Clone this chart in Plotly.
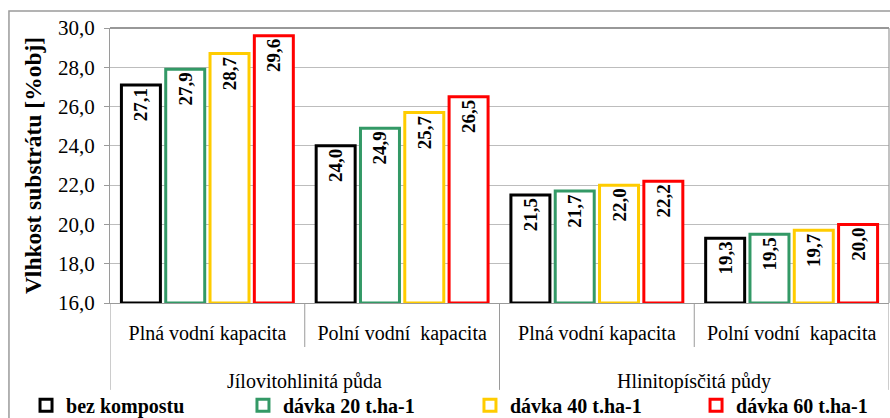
import plotly.graph_objects as go

subcats = ["Plná vodní kapacita", "Polní vodní\u00a0 kapacita", "Plná vodní kapacita", "Polní vodní\u00a0 kapacita"]
groups = ["Jílovitohlinitá půda", "Hlinitopísčitá půdy"]
series_names = ["bez kompostu", "dávka 20 t.ha-1", "dávka 40 t.ha-1", "dávka 60 t.ha-1"]
bez = [27.1, 24.0, 21.5, 19.3]
d20 = [27.9, 24.9, 21.7, 19.5]
d40 = [28.7, 25.7, 22.0, 19.7]
d60 = [29.6, 26.5, 22.2, 20.0]
y_ticks = [16, 18, 20, 22, 24, 26, 28, 30]

colors = ["#000000", "#339966", "#FFCC00", "#FF0000"]
serif = "Liberation Serif"
ymin, ymax = 16, 30
legend_ids = ["legend", "legend2", "legend3", "legend4"]
legend_x = [-0.1078, 0.1707, 0.4621, 0.7523]

fig = go.Figure()
xs = list(range(len(subcats)))
for name, vals, col, lg in zip(series_names, [bez, d20, d40, d60], colors, legend_ids):
    fig.add_trace(go.Bar(
        x=xs, y=[v - ymin for v in vals], base=[ymin] * len(vals),
        name=name, legend=lg,
        marker=dict(color="white", line=dict(color=col, width=3)),
        text=[f"{v:.1f}".replace(".", ",") for v in vals],
        textposition="inside", insidetextanchor="end", textangle=-90,
        textfont=dict(family=serif, size=19, color="black", weight="bold"),
        constraintext="none",
    ))

shapes = []
shapes.append(dict(type="rect", xref="paper", yref="paper", x0=-0.1297, x1=1.2, y0=-0.7, y1=1.0618,
                   line=dict(color="#9A9A9A", width=1.5), layer="below"))
shapes.append(dict(type="line", xref="paper", yref="paper", x0=0, x1=1, y0=1, y1=1,
                   line=dict(color="#333333", width=1.2)))
shapes.append(dict(type="line", xref="paper", yref="paper", x0=1, x1=1, y0=0, y1=1,
                   line=dict(color="#9A9A9A", width=1.2)))
for xv in [0.5, 2.5]:
    shapes.append(dict(type="line", xref="x", yref="paper", x0=xv, x1=xv, y0=0, y1=-0.16,
                       line=dict(color="#9A9A9A", width=1)))
for xv in [-0.5, 1.5, 3.5]:
    shapes.append(dict(type="line", xref="x", yref="paper", x0=xv, x1=xv, y0=0, y1=-0.316,
                       line=dict(color="#9A9A9A", width=1)))

annotations = []
for i, g in enumerate(groups):
    annotations.append(dict(x=2 * i + 0.5, xref="x", y=-0.285, yref="paper", text=g,
                            showarrow=False, yanchor="middle",
                            font=dict(family=serif, size=20, color="black")))

legend_common = dict(orientation="h", xanchor="left", y=-0.372, yanchor="middle",
                     bgcolor="rgba(0,0,0,0)",
                     font=dict(family=serif, size=20, color="black", weight="bold"))
legends = {lg: dict(x=lx, **legend_common) for lg, lx in zip(legend_ids, legend_x)}

fig.update_layout(
    width=890, height=418,
    margin=dict(l=110, r=1, t=28, b=115, autoexpand=False),
    paper_bgcolor="white", plot_bgcolor="white",
    barmode="group", bargap=0.09, bargroupgap=0.12,
    separators=", ",
    showlegend=True,
    xaxis=dict(range=[-0.5, 3.5], tickvals=xs, ticktext=subcats, showgrid=False, automargin=False,
               ticks="", ticklabelstandoff=12, showline=True, linecolor="#9A9A9A", linewidth=1,
               tickfont=dict(family=serif, size=20, color="black"), zeroline=False),
    yaxis=dict(range=[ymin, ymax], tickvals=y_ticks, tickformat=".1f", showgrid=True, automargin=False,
               gridcolor="#BDBDBD", gridwidth=1, ticks="outside", ticklen=5, tickcolor="#9A9A9A",
               ticklabelstandoff=5,
               showline=True, linecolor="#9A9A9A", linewidth=1, zeroline=False,
               tickfont=dict(family=serif, size=21, color="black"),
               title=dict(text="Vlhkost substrátu [%obj]", standoff=9,
                          font=dict(family=serif, size=23.5, color="black", weight="bold"))),
    shapes=shapes, annotations=annotations,
    **legends,
)

fig.write_html("out.html", config={"displayModeBar": False},
               post_script="document.body.style.margin='0px';")
